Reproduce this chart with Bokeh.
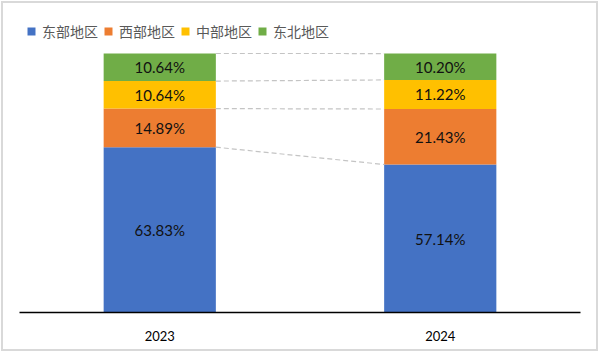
import numpy as np
from bokeh.plotting import figure
from bokeh.models import ColumnDataSource, Range1d, FixedTicker, Legend, InlineStyleSheet
from bokeh.core.properties import value
from bokeh.embed import file_html
from bokeh.resources import INLINE

years = ["2023", "2024"]
regions = ["东部地区", "西部地区", "中部地区", "东北地区"]
east = [63.83, 57.14]
west = [14.89, 21.43]
central = [10.64, 11.22]
northeast = [10.64, 10.20]
colors = ["#4472C4", "#ED7D31", "#FFC000", "#70AD47"]

series = [east, west, central, northeast]
xs = np.arange(len(years)) + 0.5
bar_w = 0.4

data = {"x": xs}
for name, vals in zip(regions, series):
    data[name] = vals
source = ColumnDataSource(data)

p = figure(width=600, height=353, output_backend="svg", toolbar_location=None,
           x_range=Range1d(0, len(years)), y_range=Range1d(0, 115.06),
           min_border_left=19, min_border_right=20, min_border_top=14,
           min_border_bottom=41)
p.outline_line_color = None
p.background_fill_color = "white"
p.border_fill_color = "white"
p.xgrid.visible = False
p.ygrid.visible = False
p.yaxis.visible = False

# light grey frame around the whole chart (drawn on top of the canvas)
p.stylesheets = [InlineStyleSheet(css="""
:host { position: relative; }
:host::after {
  content: ""; position: absolute; left: 1px; top: 1px; right: 2px; bottom: 2px;
  border: 2px solid #d9d9d9; pointer-events: none; z-index: 1000;
}
""")]

renderers = p.vbar_stack(regions, x="x", width=bar_w, color=colors, source=source,
                         line_color=None)

# segment labels
cum = np.cumsum(np.array(series), axis=0)
lx, ly, lt = [], [], []
for i, vals in enumerate(series):
    for j, v in enumerate(vals):
        lx.append(xs[j])
        ly.append(cum[i][j] - v / 2)
        lt.append(f"{v:.2f}%")
p.text(x=lx, y=ly, text=lt, text_align="center", text_baseline="middle",
       text_font=value("Lato"), text_font_size="15px", text_color="#111111")

# dashed connectors between bar edges
p.segment(x0=[xs[0] + bar_w / 2] * len(series), y0=list(cum[:, 0]),
          x1=[xs[1] - bar_w / 2] * len(series), y1=list(cum[:, 1]),
          line_color="#c4c4c4", line_width=1.2, line_dash="5 3")

# x axis
p.xaxis.ticker = FixedTicker(ticks=list(xs))
p.xaxis.major_label_overrides = {float(x): y for x, y in zip(xs, years)}
p.xaxis.major_tick_line_color = None
p.xaxis.minor_tick_line_color = None
p.xaxis.axis_line_color = "#000000"
p.xaxis.axis_line_width = 1.5
p.xaxis.major_label_text_font = "Lato"
p.xaxis.major_label_text_font_size = "13px"
p.xaxis.major_label_text_color = "#000000"
p.xaxis.major_label_standoff = 12

legend = Legend(items=[(name, [r]) for name, r in zip(regions, renderers)],
                location="top_left", orientation="horizontal",
                margin=7, padding=8, spacing=5,
                glyph_width=10, glyph_height=10, label_standoff=6,
                label_height=10,
                label_text_font="Noto Sans CJK SC", label_text_font_size="14px",
                label_text_color="#595959",
                border_line_color=None, background_fill_alpha=0)
p.add_layout(legend)

open("out.html", "w").write(file_html(p, INLINE))
